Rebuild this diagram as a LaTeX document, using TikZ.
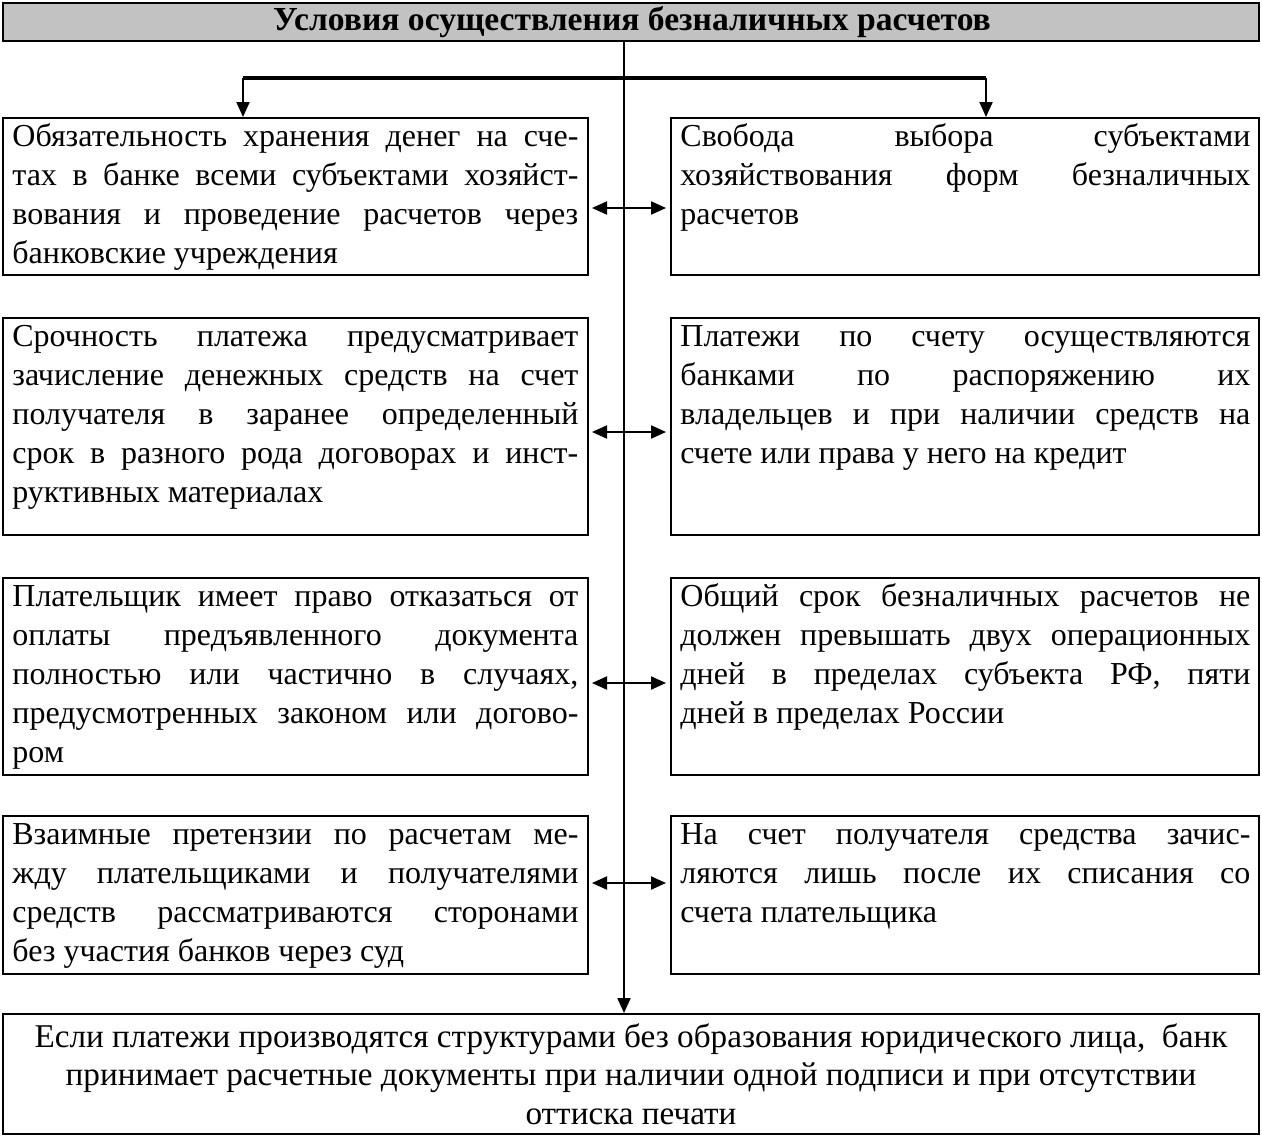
\documentclass[tikz,border=0pt]{standalone}
\usepackage{fontspec}
\setmainfont{Liberation Serif}
\usetikzlibrary{arrows.meta,calc}
\tolerance=9999
\begin{document}
\begin{tikzpicture}[x=0.5pt,y=-0.5pt,
  box/.style={draw,line width=1pt,inner sep=0pt,anchor=north west},
  txt/.style={inner sep=0pt,anchor=north west,align=justify,
    font=\fontsize{16}{19.5}\selectfont},
  arr/.style={line width=1pt,-{Triangle[length=7.5pt,width=6.5pt]}},
  darr/.style={line width=1pt,{Triangle[length=7.5pt,width=6.5pt]}-{Triangle[length=7.5pt,width=6.5pt]}}]
\useasboundingbox (0,0) rectangle (1262,1135);
% title
\node[box,fill=black!24,minimum width=628pt,minimum height=19pt] (T) at (2,2) {};
\node[font=\bfseries\fontsize{16.8}{19.5}\selectfont,inner sep=0pt] (Tt) at (632,22) {Условия осуществления безналичных расчетов};
% left and right boxes
\node[box,minimum width=292.5pt,minimum height=78.5pt] (L1) at (2,117) {};
\node[box,minimum width=294pt,minimum height=78.5pt] (R1) at (670,117) {};
\node[box,minimum width=292.5pt,minimum height=108.5pt] (L2) at (2,317) {};
\node[box,minimum width=294pt,minimum height=108.5pt] (R2) at (670,317) {};
\node[box,minimum width=292.5pt,minimum height=98.5pt] (L3) at (2,577) {};
\node[box,minimum width=294pt,minimum height=98.5pt] (R3) at (670,577) {};
\node[box,minimum width=292.5pt,minimum height=79pt] (L4) at (2,815) {};
\node[box,minimum width=294pt,minimum height=79pt] (R4) at (670,815) {};
\node[box,minimum width=628pt,minimum height=60pt,align=center,
  font=\fontsize{16.6}{19.2}\selectfont] (B) at (2,1013)
  {Если платежи производятся структурами без образования юридического лица,\ \ банк\\
   принимает расчетные документы при наличии одной подписи и при отсутствии\\
   оттиска печати};
% texts
\node[txt,text width=283pt] (L1t) at ($(L1.north west)+(10,2)$) {\strut Обязательность хранения денег на сче-\linebreak тах в банке всеми субъектами хозяйст-\linebreak вования и проведение расчетов через\linebreak банковские учреждения};
\node[txt,text width=285pt] (R1t) at ($(R1.north west)+(10,2)$) {\strut Свобода выбора субъектами\linebreak хозяйствования форм безналичных\linebreak расчетов};
\node[txt,text width=283pt] (L2t) at ($(L2.north west)+(10,2)$) {\strut Срочность платежа предусматривает\linebreak зачисление денежных средств на счет\linebreak получателя в заранее определенный\linebreak срок в разного рода договорах и инст-\linebreak руктивных материалах};
\node[txt,text width=285pt] (R2t) at ($(R2.north west)+(10,2)$) {\strut Платежи по счету осуществляются\linebreak банками по распоряжению их\linebreak владельцев и при наличии средств на\linebreak счете или права у него на кредит};
\node[txt,text width=283pt] (L3t) at ($(L3.north west)+(10,2)$) {\strut Плательщик имеет право отказаться от\linebreak оплаты предъявленного документа\linebreak полностью или частично в случаях,\linebreak предусмотренных законом или догово-\linebreak ром};
\node[txt,text width=285pt] (R3t) at ($(R3.north west)+(10,2)$) {\strut Общий срок безналичных расчетов не\linebreak должен превышать двух операционных\linebreak дней в пределах субъекта РФ, пяти\linebreak дней в пределах России};
\node[txt,text width=283pt] (L4t) at ($(L4.north west)+(10,2)$) {\strut Взаимные претензии по расчетам ме-\linebreak жду плательщиками и получателями\linebreak средств рассматриваются сторонами\linebreak без участия банков через суд};
\node[txt,text width=285pt] (R4t) at ($(R4.north west)+(10,2)$) {\strut На счет получателя средства зачис-\linebreak ляются лишь после их списания со\linebreak счета плательщика};
% connectors
\coordinate (c0) at (624,40);
\coordinate (hl) at (243,78);
\coordinate (hr) at (986,78);
\draw[arr] (c0) -- (c0 |- B.north);
\draw[line width=2pt] (hl) -- (hr);
\draw[arr] (hl) -- (hl |- L1.north);
\draw[arr] (hr) -- (hr |- R1.north);
\draw[darr,shorten <=1.5pt,shorten >=2pt] (L1.east |- 0,208) -- (R1.west |- 0,208);
\draw[darr,shorten <=1.5pt,shorten >=2pt] (L2.east |- 0,432) -- (R2.west |- 0,432);
\draw[darr,shorten <=1.5pt,shorten >=2pt] (L3.east |- 0,683) -- (R3.west |- 0,683);
\draw[darr,shorten <=1.5pt,shorten >=2pt] (L4.east |- 0,883) -- (R4.west |- 0,883);
\end{tikzpicture}
\end{document}
